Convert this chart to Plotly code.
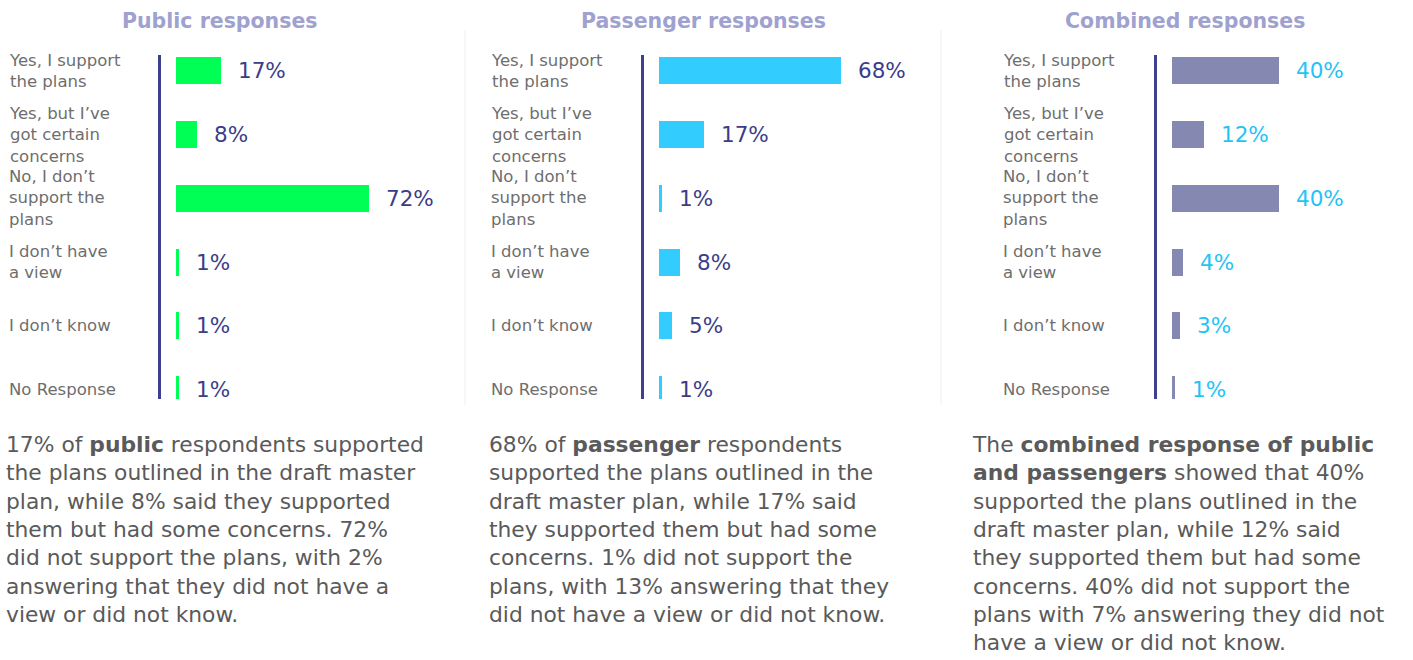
import plotly.graph_objects as go

categories = ["Yes, I support the plans", "Yes, but I’ve got certain concerns",
              "No, I don’t support the plans", "I don’t have a view",
              "I don’t know", "No Response"]
category_labels = ["Yes, I support<br>the plans", "Yes, but I’ve<br>got certain<br>concerns",
                   "No, I don’t<br>support the<br>plans", "I don’t have<br>a view",
                   "I don’t know", "No Response"]

public_values = [17, 8, 72, 1, 1, 1]
passenger_values = [68, 17, 1, 8, 5, 1]
combined_values = [40, 12, 40, 4, 3, 1]

panel_titles = ["Public responses", "Passenger responses", "Combined responses"]
panel_texts = [
    "17% of <b>public</b> respondents supported<br>the plans outlined in the draft master<br>"
    "plan, while 8% said they supported<br>them but had some concerns. 72%<br>"
    "did not support the plans, with 2%<br>answering that they did not have a<br>view or did not know.",
    "68% of <b>passenger</b> respondents<br>supported the plans outlined in the<br>"
    "draft master plan, while 17% said<br>they supported them but had some<br>"
    "concerns. 1% did not support the<br>plans, with 13% answering that they<br>"
    "did not have a view or did not know.",
    "The <b>combined response of public</b><br><b>and passengers</b> showed that 40%<br>"
    "supported the plans outlined in the<br>draft master plan, while 12% said<br>"
    "they supported them but had some<br>concerns. 40% did not support the<br>"
    "plans with 7% answering they did not<br>have a view or did not know.",
]

W, H = 1413, 660
FONT = "DejaVu Sans"
bar_colors = ["#00ff55", "#33ccff", "#8589b1"]
value_colors = ["#3b3d8a", "#3b3d8a", "#1fc3f7"]
axis_px = [161, 644, 1157]
label_px = [7, 489, 1001]
title_px = [220, 703, 1185]
text_px = [4, 487, 970]
series = [public_values, passenger_values, combined_values]

xrange_ = [-5.6, 88]
px_per_unit = 2.675
dom_w = (xrange_[1] - xrange_[0]) * px_per_unit

fig = go.Figure()
annotations = []
for i, vals in enumerate(series):
    n = "" if i == 0 else str(i + 1)
    fig.add_trace(go.Bar(
        x=vals, y=categories, orientation="h", width=0.424,
        marker=dict(color=bar_colors[i], line=dict(width=0)),
        xaxis="x" + n, yaxis="y" + n, hoverinfo="skip", showlegend=False,
    ))
    fig.update_layout(**{
        "xaxis" + n: dict(domain=[axis_px[i] / W, (axis_px[i] + dom_w) / W],
                          range=xrange_, visible=False, anchor="y" + n, fixedrange=True),
        "yaxis" + n: dict(domain=[(H - 399) / H, (H - 55) / H], type="category",
                          categoryorder="array", categoryarray=categories,
                          range=[5.15, -0.25], showline=True, linecolor="#3d3f8f",
                          linewidth=3, showticklabels=False, showgrid=False,
                          zeroline=False, ticks="", anchor="x" + n, fixedrange=True),
    })
    for cat, lab, v in zip(categories, category_labels, vals):
        annotations.append(dict(
            x=label_px[i] / W, xref="paper", y=cat, yref="y" + n,
            text=lab, xanchor="left", align="left", showarrow=False,
            font=dict(family=FONT, size=16.5, color="#6e6e6e"),
        ))
        annotations.append(dict(
            x=v, xref="x" + n, y=cat, yref="y" + n, text=f"{v}%",
            xanchor="left", showarrow=False, xshift=15,
            font=dict(family=FONT, size=21.5, color=value_colors[i]),
        ))
    annotations.append(dict(
        x=title_px[i] / W, xref="paper", y=1 - 21 / H, yref="paper",
        text=f"<b>{panel_titles[i]}</b>", xanchor="center", yanchor="middle",
        showarrow=False, font=dict(family=FONT, size=20.5, color="#9fa1cf"),
    ))
    annotations.append(dict(
        x=text_px[i] / W, xref="paper", y=1 - 430 / H, yref="paper",
        text=panel_texts[i], xanchor="left", yanchor="top", align="left",
        showarrow=False, font=dict(family=FONT, size=21.8, color="#5a5a5a"),
    ))

shapes = [dict(type="line", xref="paper", yref="paper", x0=xp / W, x1=xp / W,
               y0=1 - 405 / H, y1=1 - 30 / H, line=dict(color="#eeeeee", width=1))
          for xp in (465, 941)]

fig.update_layout(
    width=W, height=H, margin=dict(l=0, r=0, t=0, b=0),
    paper_bgcolor="white", plot_bgcolor="white",
    annotations=annotations, shapes=shapes, bargap=0,
)
fig.write_html("out.html")
